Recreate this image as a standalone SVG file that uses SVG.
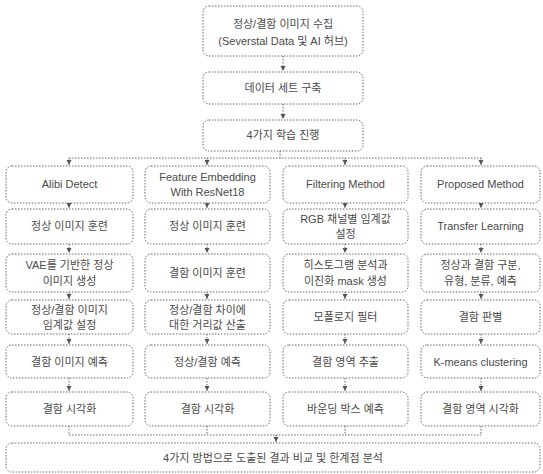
<svg xmlns="http://www.w3.org/2000/svg" width="543" height="474" viewBox="0 0 543 474">
<defs>
<style>
.b{fill:#fff;stroke:#666;stroke-width:1;stroke-dasharray:1.5 1.5}
.t{font-family:"Liberation Sans","Noto Sans CJK KR",sans-serif;font-size:11px;fill:#4a4a4a;text-anchor:middle}
.c{fill:none;stroke:#666;stroke-width:1;stroke-dasharray:1.5 1.5}
</style>
<marker id="a" markerWidth="6" markerHeight="6" refX="5" refY="3" orient="auto" markerUnits="userSpaceOnUse"><path d="M0,0.5 L5,3 L0,5.5 Z" fill="#555"/></marker>
</defs>
<rect width="543" height="474" fill="#fff"/>
<g id="connectors">
<path class="c" d="M283,56 V71" marker-end="url(#a)"/>
<path class="c" d="M283,104 V119" marker-end="url(#a)"/>
<path class="c" d="M280,151 V158 M69,158 H481"/>
<path class="c" d="M69,158 V165" marker-end="url(#a)"/>
<path class="c" d="M207,158 V165" marker-end="url(#a)"/>
<path class="c" d="M345,158 V165" marker-end="url(#a)"/>
<path class="c" d="M481,158 V165" marker-end="url(#a)"/>
<path class="c" d="M69,203 V208" marker-end="url(#a)"/>
<path class="c" d="M207,203 V208" marker-end="url(#a)"/>
<path class="c" d="M345,203 V208" marker-end="url(#a)"/>
<path class="c" d="M481,203 V208" marker-end="url(#a)"/>
<path class="c" d="M69,244 V253" marker-end="url(#a)"/>
<path class="c" d="M207,244 V253" marker-end="url(#a)"/>
<path class="c" d="M345,244 V253" marker-end="url(#a)"/>
<path class="c" d="M481,244 V253" marker-end="url(#a)"/>
<path class="c" d="M69,292 V299" marker-end="url(#a)"/>
<path class="c" d="M207,292 V299" marker-end="url(#a)"/>
<path class="c" d="M345,292 V299" marker-end="url(#a)"/>
<path class="c" d="M481,292 V299" marker-end="url(#a)"/>
<path class="c" d="M69,334 V344" marker-end="url(#a)"/>
<path class="c" d="M207,334 V344" marker-end="url(#a)"/>
<path class="c" d="M345,334 V344" marker-end="url(#a)"/>
<path class="c" d="M481,334 V344" marker-end="url(#a)"/>
<path class="c" d="M69,378 V391" marker-end="url(#a)"/>
<path class="c" d="M207,378 V391" marker-end="url(#a)"/>
<path class="c" d="M345,378 V391" marker-end="url(#a)"/>
<path class="c" d="M481,378 V391" marker-end="url(#a)"/>
<path class="c" d="M69,426 V435 M207,426 V435 M345,426 V435 M481,426 V435 M69,435 H481"/>
<path class="c" d="M276,435 V442" marker-end="url(#a)"/>
</g>
<g id="n1"><rect class="b" x="203" y="6" width="160" height="50" rx="6"/><text class="t" x="283" y="28">정상/결함 이미지 수집</text><text class="t" x="283" y="45">(Severstal Data 및 AI 허브)</text></g>
<g id="n2"><rect class="b" x="203" y="72" width="160" height="32" rx="6"/><text class="t" x="283" y="92">데이터 세트 구축</text></g>
<g id="n3"><rect class="b" x="203" y="120" width="160" height="31" rx="6"/><text class="t" x="283" y="139">4가지 학습 진행</text></g>

<g id="c1h"><rect class="b" x="6" y="166" width="127" height="37" rx="6"/><text class="t" x="69.5" y="188">Alibi Detect</text></g>
<g id="c2h"><rect class="b" x="145" y="166" width="125" height="37" rx="6"/><text class="t" x="207.5" y="181">Feature Embedding</text><text class="t" x="207.5" y="196">With ResNet18</text></g>
<g id="c3h"><rect class="b" x="283" y="166" width="125" height="37" rx="6"/><text class="t" x="345.5" y="188">Filtering Method</text></g>
<g id="c4h"><rect class="b" x="421" y="166" width="119" height="37" rx="6"/><text class="t" x="480.5" y="188">Proposed Method</text></g>

<g id="c1r2"><rect class="b" x="6" y="209" width="127" height="35" rx="6"/><text class="t" x="69.5" y="230">정상 이미지 훈련</text></g>
<g id="c2r2"><rect class="b" x="145" y="209" width="125" height="35" rx="6"/><text class="t" x="207.5" y="230">정상 이미지 훈련</text></g>
<g id="c3r2"><rect class="b" x="283" y="209" width="125" height="35" rx="6"/><text class="t" x="345.5" y="223">RGB 채널별 임계값</text><text class="t" x="345.5" y="238">설정</text></g>
<g id="c4r2"><rect class="b" x="421" y="209" width="119" height="35" rx="6"/><text class="t" x="480.5" y="230">Transfer Learning</text></g>

<g id="c1r3"><rect class="b" x="6" y="254" width="127" height="38" rx="6"/><text class="t" x="69.5" y="269">VAE를 기반한 정상</text><text class="t" x="69.5" y="285">이미지 생성</text></g>
<g id="c2r3"><rect class="b" x="145" y="254" width="125" height="38" rx="6"/><text class="t" x="207.5" y="277">결함 이미지 훈련</text></g>
<g id="c3r3"><rect class="b" x="283" y="254" width="125" height="38" rx="6"/><text class="t" x="345.5" y="269">히스토그램 분석과</text><text class="t" x="345.5" y="285">이진화 mask 생성</text></g>
<g id="c4r3"><rect class="b" x="421" y="254" width="119" height="38" rx="6"/><text class="t" x="480.5" y="269">정상과 결함 구분,</text><text class="t" x="480.5" y="285">유형, 분류, 예측</text></g>

<g id="c1r4"><rect class="b" x="6" y="300" width="127" height="34" rx="6"/><text class="t" x="69.5" y="314">정상/결함 이미지</text><text class="t" x="69.5" y="329">임계값 설정</text></g>
<g id="c2r4"><rect class="b" x="145" y="300" width="125" height="34" rx="6"/><text class="t" x="207.5" y="314">정상/결함 차이에</text><text class="t" x="207.5" y="329">대한 거리값 산출</text></g>
<g id="c3r4"><rect class="b" x="283" y="300" width="125" height="34" rx="6"/><text class="t" x="345.5" y="321">모폴로지 필터</text></g>
<g id="c4r4"><rect class="b" x="421" y="300" width="119" height="34" rx="6"/><text class="t" x="480.5" y="321">결함 판별</text></g>

<g id="c1r5"><rect class="b" x="6" y="345" width="127" height="33" rx="6"/><text class="t" x="69.5" y="366">결함 이미지 예측</text></g>
<g id="c2r5"><rect class="b" x="145" y="345" width="125" height="33" rx="6"/><text class="t" x="207.5" y="366">정상/결함 예측</text></g>
<g id="c3r5"><rect class="b" x="283" y="345" width="125" height="33" rx="6"/><text class="t" x="345.5" y="366">결함 영역 추출</text></g>
<g id="c4r5"><rect class="b" x="421" y="345" width="119" height="33" rx="6"/><text class="t" x="480.5" y="366">K-means clustering</text></g>

<g id="c1r6"><rect class="b" x="6" y="392" width="127" height="34" rx="6"/><text class="t" x="69.5" y="413">결함 시각화</text></g>
<g id="c2r6"><rect class="b" x="145" y="392" width="125" height="34" rx="6"/><text class="t" x="207.5" y="413">결함 시각화</text></g>
<g id="c3r6"><rect class="b" x="283" y="392" width="125" height="34" rx="6"/><text class="t" x="345.5" y="413">바운딩 박스 예측</text></g>
<g id="c4r6"><rect class="b" x="421" y="392" width="119" height="34" rx="6"/><text class="t" x="480.5" y="413">결함 영역 시각화</text></g>

<g id="n_end"><rect class="b" x="6" y="443" width="534" height="29" rx="6"/><text class="t" x="273" y="462">4가지 방법으로 도출된 결과 비교 및 한계점 분석</text></g>
</svg>
